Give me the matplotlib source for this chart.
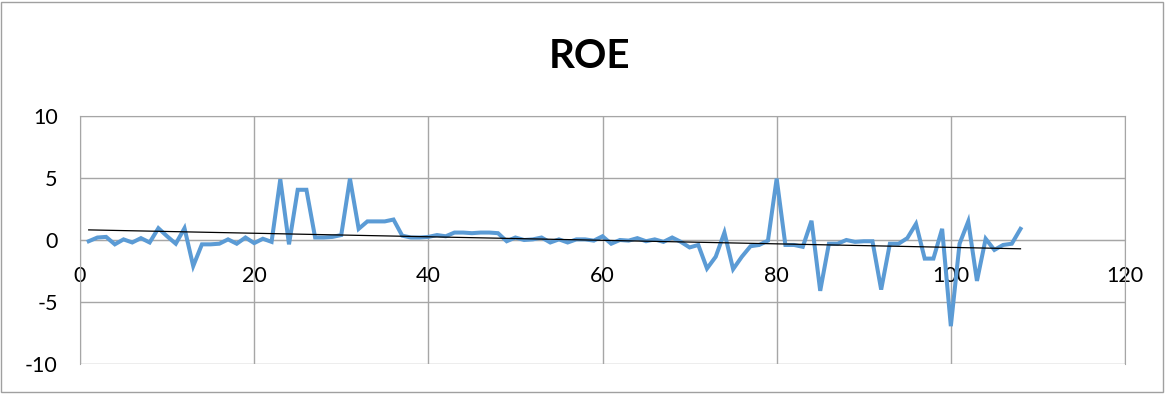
import numpy as np
import matplotlib.pyplot as plt
from matplotlib.patches import Rectangle

plt.rcParams['font.family'] = ['Lato', 'DejaVu Sans']
plt.rcParams['axes.unicode_minus'] = False

# ROE series, one value per observation
obs = np.arange(1, 109)
roe = [
    -0.1, 0.2, 0.25, -0.35, 0.05, -0.2, 0.15, -0.2, 0.95, 0.3,
    -0.3, 0.95, -2.1, -0.35, -0.35, -0.3, 0.05, -0.3, 0.2, -0.25,
    0.1, -0.15, 4.9, -0.35, 4.05, 4.05, 0.2, 0.2, 0.25, 0.4,
    4.95, 0.9, 1.5, 1.5, 1.5, 1.65, 0.35, 0.2, 0.2, 0.25,
    0.4, 0.3, 0.6, 0.6, 0.55, 0.6, 0.6, 0.55, -0.1, 0.2,
    0.0, 0.05, 0.2, -0.2, 0.05, -0.2, 0.05, 0.05, -0.05, 0.3,
    -0.3, 0.0, -0.05, 0.15, -0.1, 0.05, -0.15, 0.2, -0.15, -0.6,
    -0.4, -2.3, -1.35, 0.6, -2.35, -1.35, -0.5, -0.4, -0.05, 4.95,
    -0.4, -0.4, -0.55, 1.55, -4.1, -0.3, -0.3, 0.0, -0.15, -0.1,
    -0.1, -4.0, -0.3, -0.3, 0.15, 1.3, -1.5, -1.5, 0.9, -6.95,
    -0.3, 1.5, -3.3, 0.1, -0.8, -0.4, -0.3, 0.9,
]
x_ticks = [0, 20, 40, 60, 80, 100, 120]
y_ticks = [-10, -5, 0, 5, 10]

fig = plt.figure(figsize=(11.76, 3.94), dpi=100)
ax = fig.add_axes([80 / 1176, 1 - 364 / 394, 1045 / 1176, 248 / 394])

# chart area frame
fig.patches.append(Rectangle((1 / 1176, 2 / 394), 1162 / 1176, 390 / 394,
                             transform=fig.transFigure, fill=False,
                             edgecolor='#a0a0a0', linewidth=1))

ax.plot(obs, roe, color='#5B9BD5', linewidth=2.9, solid_joinstyle='miter', zorder=3)

# linear trend line
k, b = np.polyfit(obs, roe, 1)
ax.plot(obs, k * obs + b, color='black', linewidth=0.9, zorder=4)

ax.set_xlim(0, 120)
ax.set_ylim(-10, 10)
ax.set_xticks(x_ticks)
ax.set_yticks(y_ticks)
ax.grid(True, color='#a6a6a6', linewidth=1)
ax.set_axisbelow(True)

for side in ['top', 'right', 'left']:
    ax.spines[side].set_color('#a6a6a6')
ax.spines['bottom'].set_position(('data', 0))
ax.spines['bottom'].set_color('#a6a6a6')
ax.tick_params(axis='both', length=0, labelsize=15.5, colors='black')
ax.tick_params(axis='x', pad=19)
ax.tick_params(axis='y', pad=16)

fig.text(590 / 1176, 1 - 56 / 394, 'ROE', ha='center', va='center',
         fontsize=29, fontweight='bold')

fig.savefig('out.png', dpi=100)
